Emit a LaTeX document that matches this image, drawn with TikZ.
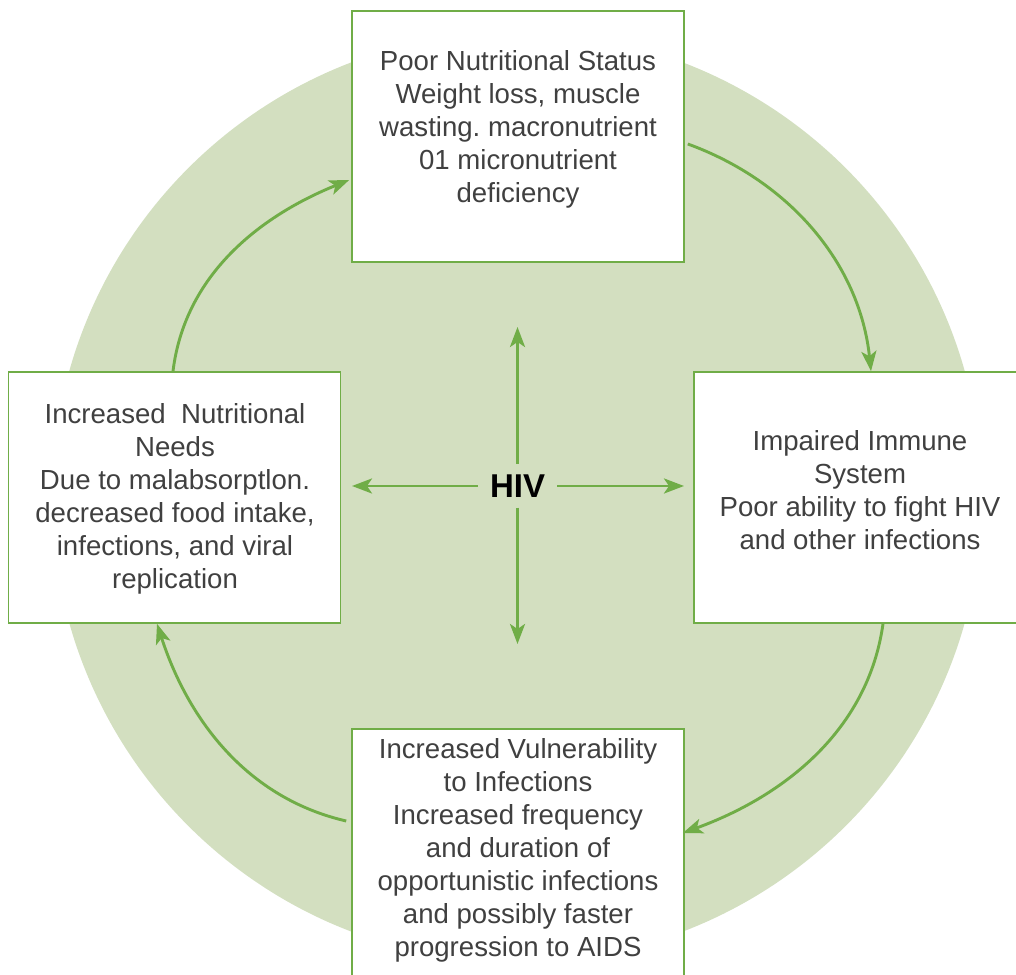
\documentclass[tikz,border=0pt]{standalone}
\usepackage{fontspec}
\setmainfont{Liberation Sans}
\usepackage{tikz}
\usetikzlibrary{arrows.meta}
\definecolor{leaf}{HTML}{70AD47}
\definecolor{pale}{RGB}{211,223,192}
\definecolor{ink}{HTML}{404040}
\frenchspacing

\begin{document}
\begin{tikzpicture}[x=0.5pt, y=0.5pt,
        box/.style = {draw=leaf, line width=0.8pt, fill=white, minimum width=166pt, minimum height=125.5pt, inner sep=0pt},
        txt/.style = {text=ink, align=center, font=\fontsize{13.8pt}{16.5pt}\selectfont, inner sep=0pt},
        arr/.style = {draw=leaf, line width=1.45pt, -{Stealth[length=10pt, width=7.5pt, inset=2.5pt]}}]
        \useasboundingbox (0,0) rectangle (1016,974);
        \node[circle, fill=pale, minimum size=465pt, inner sep=0pt] (bg) at (517,477) {};
        % the four boxes
        \node[box] (nut) at (518,837.5) {};
        \node[box] (needs) at (174.5,476.5) {};
        \node[box] (imm) at (860,476.5) {};
        \node[box] (vul) at (518,119.5) {};
        \node[txt] (nutT) at (518,844.5) {Poor Nutritional Status\\Weight loss, muscle\\wasting. macronutrient\\01 micronutrient\\deficiency};
        \node[txt] (needsT) at (175,475.5) {Increased~ Nutritional\\Needs\\Due to malabsorptlon.\\decreased food intake,\\infections, and viral\\replication};
        \node[txt] (immT) at (860,484) {Impaired Immune\\System\\Poor ability to fight HIV\\and other infections};
        \node[txt] (vulT) at (518,123.5) {Increased Vulnerability\\to Infections\\Increased frequency\\and duration of\\opportunistic infections\\and possibly faster\\progression to AIDS};
        % centre
        \node[font=\fontsize{16.5pt}{19pt}\selectfont\bfseries, inner xsep=6pt, inner ysep=5pt] (hiv) at (517.5,488) {HIV};
        \coordinate (up) at (517.5,647);
        \coordinate (down) at (517.5,330);
        \coordinate (left) at (352,488);
        \coordinate (right) at (684,488);
        \draw[arr] (hiv.north) -- (up);
        \draw[arr] (hiv.south) -- (down);
        \draw[arr] (hiv.west) -- (left);
        \draw[arr] (hiv.east) -- (right);
        % the cycle
        \draw[arr] ([xshift=1.5pt, yshift=-3.75pt]nut.east) to [out=-20, in=96, looseness=0.95] ([xshift=5.5pt]imm.north);
        \draw[arr] ([xshift=11.5pt]imm.south) to [out=-98, in=20, looseness=0.95] ([xshift=-1pt, yshift=10.75pt]vul.east);
        \draw[arr] ([xshift=-2.5pt, yshift=16.75pt]vul.west) to [out=167, in=-72, looseness=0.95] ([xshift=-8.75pt]needs.south);
        \draw[arr] ([xshift=-0.75pt]needs.north) to [out=83, in=-158, looseness=0.95] ([xshift=-1pt, yshift=-21.75pt]nut.west);
\end{tikzpicture}
\end{document}
